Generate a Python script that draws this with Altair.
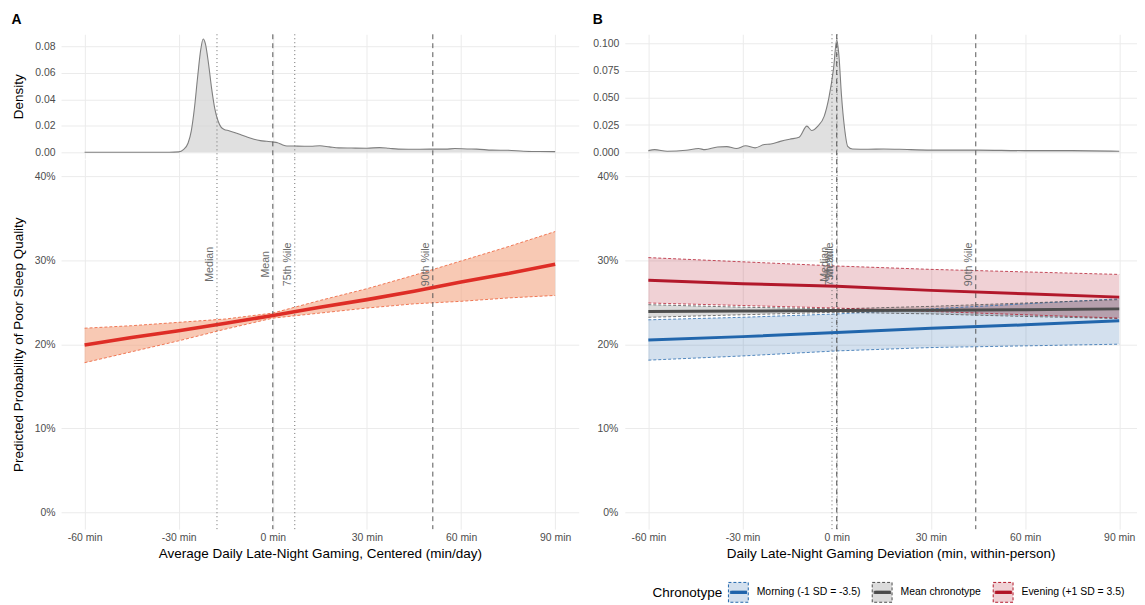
import altair as alt
import pandas as pd

FONT = "Liberation Sans"

# ---------------- data ----------------
dens_a_x = [-60, -45, -33, -30, -28.5, -27, -26, -25, -24, -23, -22.2, -21.5, -20.5, -19.5, -18.5,
            -17.5, -16.5, -15.5, -14, -12, -10, -8, -6, -4, -2, 0, 1.5, 3, 4.5, 7, 10, 12, 15, 18,
            21, 25, 30, 34, 37, 40, 45, 50, 55, 58, 62, 65, 70, 75, 80, 85, 90]
dens_a_y = [0, 0, 0, 0.0003, 0.002, 0.007, 0.016, 0.033, 0.056, 0.077, 0.0855, 0.082, 0.067, 0.048,
            0.033, 0.024, 0.019, 0.0172, 0.0163, 0.0148, 0.013, 0.0113, 0.0098, 0.0088, 0.0083,
            0.0078, 0.0072, 0.0057, 0.0048, 0.0047, 0.0046, 0.0046, 0.0049, 0.0041, 0.0033, 0.0032,
            0.0031, 0.0035, 0.0030, 0.0024, 0.0023, 0.0024, 0.0024, 0.0028, 0.0025, 0.0024, 0.0016,
            0.0015, 0.0008, 0.0006, 0.0005]

dens_b_x = [-60, -58, -54, -48, -44, -42, -38, -35, -32, -29, -26, -23, -21, -18, -15, -12, -9.5,
            -8, -6, -4, -2.5, -1, 0, 0.7, 1.5, 2.5, 3.5, 5, 10, 15, 20, 30, 45, 60, 75, 90]
dens_b_y = [0.0015, 0.0024, 0.001, 0.0018, 0.0034, 0.0024, 0.0049, 0.0052, 0.0034, 0.006, 0.004,
            0.0072, 0.0076, 0.010, 0.012, 0.0137, 0.024, 0.020, 0.024, 0.033, 0.050, 0.077, 0.103,
            0.089, 0.053, 0.022, 0.0055, 0.003, 0.0027, 0.003, 0.0027, 0.002, 0.002, 0.0015,
            0.0015, 0.001]

pred_a_x = [-60, -45, -30, -15, 0, 15, 30, 45, 60, 75, 90]
a_fit = [0.199, 0.208, 0.216, 0.225, 0.234, 0.244, 0.253, 0.263, 0.274, 0.284, 0.295]
a_lo = [0.178, 0.191, 0.204, 0.218, 0.231, 0.237, 0.243, 0.248, 0.251, 0.255, 0.258]
a_hi = [0.219, 0.222, 0.226, 0.230, 0.237, 0.252, 0.266, 0.282, 0.299, 0.316, 0.334]

groups = ["Morning (-1 SD = -3.5)", "Mean chronotype", "Evening (+1 SD = 3.5)"]
group_colors = ["#2166AC", "#4D4D4D", "#B2182B"]
group_fills = ["rgba(33,102,172,0.2)", "rgba(77,77,77,0.2)", "rgba(178,24,43,0.2)"]
pred_b_x = [-60, -30, 0, 30, 60, 90]
b_fit = [
    [0.205, 0.209, 0.214, 0.219, 0.223, 0.228],
    [0.239, 0.2395, 0.240, 0.2405, 0.241, 0.242],
    [0.276, 0.272, 0.269, 0.264, 0.260, 0.256],
]
b_lo = [
    [0.181, 0.186, 0.192, 0.196, 0.198, 0.200],
    [0.232, 0.235, 0.238, 0.236, 0.233, 0.2305],
    [0.249, 0.246, 0.243, 0.239, 0.235, 0.231],
]
b_hi = [
    [0.229, 0.232, 0.236, 0.242, 0.248, 0.254],
    [0.247, 0.244, 0.242, 0.245, 0.249, 0.253],
    [0.303, 0.298, 0.293, 0.289, 0.286, 0.283],
]

stat_names = ["Median", "Mean", "75th %ile", "90th %ile"]
stat_style = ["dotted", "dashed", "dotted", "dashed"]
a_stat_vals = [-17.8, 0.0, 7.0, 51.0]
b_stat_vals = [-1.5, 0.0, 0.1, 44.3]

# ---------------- tables ----------------
densA = pd.DataFrame({"x": dens_a_x, "d": dens_a_y})
densB = pd.DataFrame({"x": dens_b_x, "d": dens_b_y})
predA = pd.DataFrame({"x": pred_a_x, "fit": a_fit, "lo": a_lo, "hi": a_hi})
predA_long = pd.concat([
    pd.DataFrame({"x": pred_a_x, "v": a_lo, "b": "lo"}),
    pd.DataFrame({"x": pred_a_x, "v": a_hi, "b": "hi"}),
])
rowsB, rowsBd = [], []
for gi, g in enumerate(groups):
    for i, xv in enumerate(pred_b_x):
        rowsB.append({"x": xv, "g": g, "o": gi, "fit": b_fit[gi][i], "lo": b_lo[gi][i], "hi": b_hi[gi][i]})
        rowsBd.append({"x": xv, "g": g, "o": gi, "b": "lo", "v": b_lo[gi][i]})
        rowsBd.append({"x": xv, "g": g, "o": gi, "b": "hi", "v": b_hi[gi][i]})
predB = pd.DataFrame(rowsB)
predB_long = pd.DataFrame(rowsBd)
statsA = pd.DataFrame({"name": stat_names, "v": a_stat_vals, "s": stat_style, "ly": 0.295})
statsB = pd.DataFrame({"name": stat_names, "v": b_stat_vals, "s": stat_style, "ly": 0.295})

# ---------------- layout / style ----------------
W = 522
WB = 516
HD = 125
HM = 373
TICK_FS = 10.5
TITLE_FS = 13.6
xA = alt.Scale(domain=[-67.5, 97.5], nice=False, zero=False)
xB = alt.Scale(domain=[-67.5, 95.5], nice=False, zero=False)
yM = alt.Scale(domain=[-0.02, 0.42], nice=False, zero=False)
XVALS = [-60, -30, 0, 30, 60, 90]
stroke_scale = alt.Scale(domain=groups, range=group_colors)
fill_scale = alt.Scale(domain=groups, range=group_fills)

x_dens_axis = alt.Axis(values=XVALS, labels=False, ticks=False, domain=False, title=None)


def x_main_axis(title, tx):
    return alt.Axis(values=XVALS, labelExpr="datum.value + ' min'", title=title,
                    titleX=tx, titleY=25, titleBaseline="middle", labelPadding=3,
                    labelBaseline="top")


def stat_layers(stats, xs):
    dotted = alt.Chart(stats).transform_filter("datum.s == 'dotted'").mark_rule(
        color="#6b6b6b", strokeWidth=1, strokeDash=[1, 3]).encode(x=alt.X("v:Q", scale=xs))
    dashed = alt.Chart(stats).transform_filter("datum.s == 'dashed'").mark_rule(
        color="#555555", strokeWidth=1, strokeDash=[5, 4]).encode(x=alt.X("v:Q", scale=xs))
    return dotted, dashed


def density_panel(df, stats, xs, ydom, yvals, yfmt, ytitle, letter, width):
    yaxis = alt.Axis(values=yvals, format=yfmt, title=ytitle, labelPadding=6,
                     titleX=-43, titleBaseline="middle")
    area = alt.Chart(df).mark_area(
        fill="#d3d3d3", interpolate="monotone",
        line={"color": "#7f7f7f", "strokeWidth": 1.1},
    ).encode(
        x=alt.X("x:Q", scale=xs, axis=x_dens_axis),
        y=alt.Y("d:Q", scale=alt.Scale(domain=ydom, nice=False, zero=False), axis=yaxis),
    )
    dotted, dashed = stat_layers(stats, xs)
    return alt.layer(area, dotted, dashed).properties(
        width=width, height=HD,
        title=alt.TitleParams(letter, anchor="start", fontSize=14, fontWeight="bold",
                              font=FONT, offset=7, color="black"),
    )


def stat_text(stats, xs):
    return alt.Chart(stats).mark_text(
        angle=270, align="center", baseline="bottom", dy=-2, fontSize=10.7, font=FONT,
        color="#6b6b6b",
    ).encode(x=alt.X("v:Q", scale=xs), y=alt.Y("ly:Q", scale=yM), text="name:N")


y_main_axis_A = alt.Axis(values=[0, 0.1, 0.2, 0.3, 0.4], format=".0%", labelPadding=6,
                         title="Predicted Probability of Poor Sleep Quality",
                         titleX=-43, titleBaseline="middle")
y_main_axis_B = alt.Axis(values=[0, 0.1, 0.2, 0.3, 0.4], format=".0%", labelPadding=7, title=None)

# ---------------- panel A ----------------
dA = density_panel(densA, statsA, xA, [-0.0045, 0.089], [0, 0.02, 0.04, 0.06, 0.08], ".2f",
                   "Density", "A", W)

ribA = alt.Chart(predA).mark_area(fill="#F4A582", opacity=0.6).encode(
    x=alt.X("x:Q", scale=xA,
            axis=x_main_axis("Average Daily Late-Night Gaming, Centered (min/day)", W / 2)),
    y=alt.Y("lo:Q", scale=yM, axis=y_main_axis_A),
    y2="hi:Q",
)
edgeA = alt.Chart(predA_long).mark_line(color="#EE6A45", strokeWidth=0.9, strokeDash=[3, 2]).encode(
    x=alt.X("x:Q", scale=xA), y=alt.Y("v:Q", scale=yM), detail="b:N")
lineA = alt.Chart(predA).mark_line(color="#DE2D26", strokeWidth=3.6).encode(
    x=alt.X("x:Q", scale=xA), y=alt.Y("fit:Q", scale=yM))
dotA, dashA = stat_layers(statsA, xA)
mA = alt.layer(ribA, edgeA, dotA, dashA, stat_text(statsA, xA), lineA).properties(width=W, height=HM)

# ---------------- panel B ----------------
dB = density_panel(densB, statsB, xB, [-0.0055, 0.1083], [0, 0.025, 0.05, 0.075, 0.1], ".3f",
                   None, "B", WB)

# legend key: dashed box (lightly filled) with a solid thick line through it
key_parts = ["M-1,-1H1V1H-1Z"]
for yy in (-0.1, 0, 0.1):
    for off in (0, 0.1, 0.2, 0.3, 0.4):
        key_parts.append(f"M{-0.85 + off:.2f},{yy}H0.85")
KEY_PATH = " ".join(key_parts)

legend_B = alt.Legend(
    orient="none", legendX=596.5, legendY=552, direction="horizontal",
    titleOrient="left", title="Chronotype", titleFontSize=TITLE_FS,
    titleFont=FONT, titleFontWeight="normal", titleColor="black", titleBaseline="middle",
    labelFont=FONT, labelFontSize=10.5, labelColor="black",
    columnPadding=9, labelOffset=8, titlePadding=5,
    symbolType=KEY_PATH, symbolSize=400, symbolStrokeWidth=1, symbolDash=[3, 2],
)

ribB = alt.Chart(predB).mark_area(strokeDash=[3, 2]).encode(
    x=alt.X("x:Q", scale=xB,
            axis=x_main_axis("Daily Late-Night Gaming Deviation (min, within-person)", 268)),
    y=alt.Y("lo:Q", scale=yM, axis=y_main_axis_B),
    y2="hi:Q",
    fill=alt.Fill("g:N", scale=fill_scale, legend=legend_B),
    stroke=alt.Stroke("g:N", scale=stroke_scale, legend=legend_B),
    strokeWidth=alt.value(0),
    order="o:Q",
)
edgeB = alt.Chart(predB_long).mark_line(strokeWidth=0.9, strokeDash=[3, 2], opacity=0.85).encode(
    x=alt.X("x:Q", scale=xB), y=alt.Y("v:Q", scale=yM),
    stroke=alt.Stroke("g:N", scale=stroke_scale, legend=None),
    detail="b:N",
)
lineB = alt.Chart(predB).mark_line(strokeWidth=3).encode(
    x=alt.X("x:Q", scale=xB), y=alt.Y("fit:Q", scale=yM),
    stroke=alt.Stroke("g:N", scale=stroke_scale, legend=None),
)
dotB, dashB = stat_layers(statsB, xB)
mB = alt.layer(ribB, edgeB, dotB, dashB, stat_text(statsB, xB), lineB).properties(width=WB, height=HM)

chart = alt.concat(dA, dB, mA, mB, columns=2, spacing={"row": 1, "column": 46.5}, bounds="flush").properties(
    padding={"left": 2.5, "top": 2, "right": 0, "bottom": 0},
).configure_view(stroke=None).configure_axis(
    grid=True, gridColor="#EBEBEB", gridWidth=1, domain=False, ticks=False,
    labelFont=FONT, labelFontSize=TICK_FS, labelColor="#4D4D4D",
    titleFont=FONT, titleFontSize=TITLE_FS, titleColor="black", titleFontWeight="normal",
).configure_legend(labelFont=FONT, titleFont=FONT)

chart.save("out.html", embed_options={"renderer": "svg", "actions": False})
